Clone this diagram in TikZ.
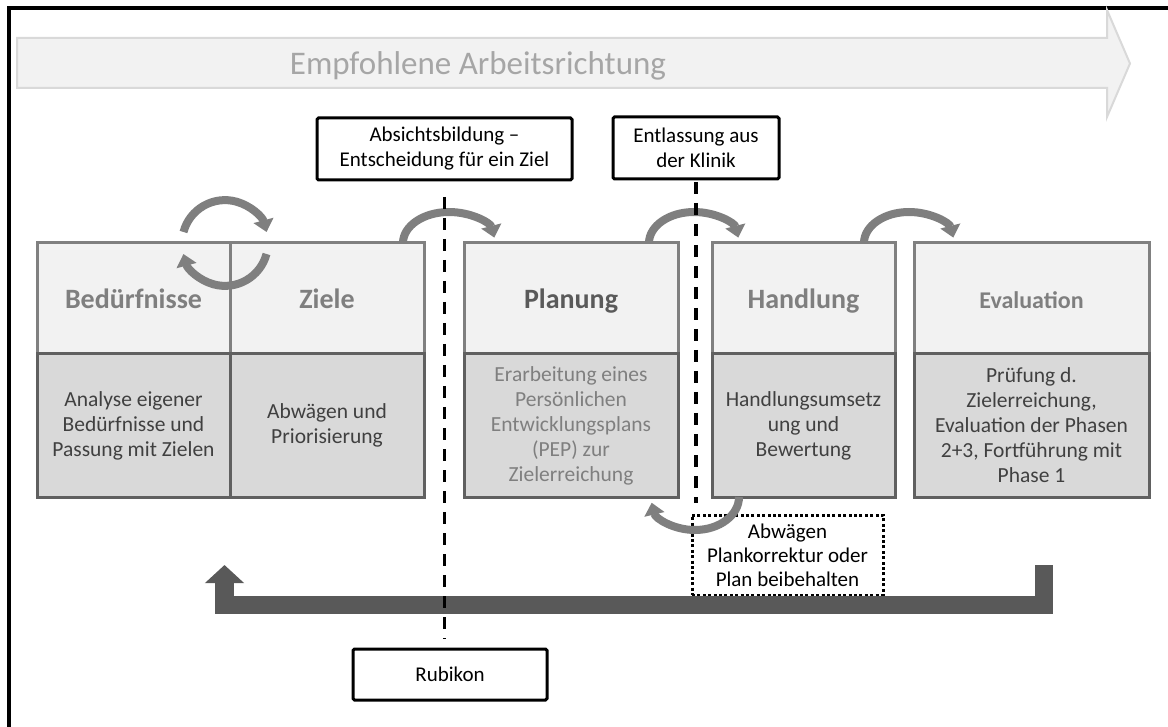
\documentclass[tikz,border=0pt]{standalone}
\usepackage{fontspec}
\setmainfont{Carlito}
\usepackage{xcolor}
\usetikzlibrary{arrows.meta}
\usetikzlibrary{positioning}
\definecolor{headfill}{HTML}{F2F2F2}
\definecolor{bodyfill}{HTML}{D9D9D9}
\definecolor{headline}{HTML}{808080}
\definecolor{bodyline}{HTML}{606060}
\definecolor{headtext}{HTML}{7F7F7F}
\definecolor{plantext}{HTML}{5A5A5A}
\definecolor{bodytext}{HTML}{404040}
\definecolor{arcgray}{HTML}{7F7F7F}
\definecolor{bargray}{HTML}{595959}
\definecolor{titleline}{HTML}{D9D9D9}
\definecolor{titletext}{HTML}{A6A6A6}
\newcommand{\fsz}[2]{\fontsize{#1}{#2}\selectfont}

\begin{document}
\begin{tikzpicture}[x=1pt, y=-1pt,
    head/.style={draw=headline, fill=headfill, line width=3pt, minimum height=111pt, inner sep=0pt, outer sep=0pt,
                 text height=20pt, text depth=0pt, text=headtext, font=\bfseries\fsz{28}{34}},
    body/.style={draw=bodyline, fill=bodyfill, line width=3pt, minimum height=143pt, inner sep=0pt, outer sep=0pt,
                 align=center, text=bodytext, font=\fsz{21.5}{25}},
    marker/.style={draw, line width=3pt, rounded corners=1.5pt, align=center, inner sep=0pt, outer sep=0pt, font=\fsz{21}{25}},
    note/.style={draw, line width=3pt, dash pattern=on 3pt off 2.4pt, align=center, inner sep=0pt, outer sep=0pt, font=\fsz{21}{24}},
    cycarrow/.style={arcgray, line width=8pt, -{Triangle[width=20pt,length=12pt]}},
    rubiline/.style={line width=3.3pt, dash pattern=on 12pt off 9pt},
    loopbar/.style={bargray, line width=18.5pt, -{Triangle[width=38pt,length=18pt]}}]
       \useasboundingbox (0,0) rectangle (1168,727);
       \draw[line width=4pt] (8.5,727) -- (8.5,8) -- (1168,8);

       % Arbeitsrichtung
       \draw[fill=headfill, draw=titleline, line width=2pt] (17,38) -- (1107,38) -- (1107,10) -- (1130,63.5)
            -- (1107,117) -- (1107,88) -- (17,88) -- cycle;
       \node[text=titletext, font=\fsz{33}{40}, anchor=base] (title) at (478,75) {Empfohlene Arbeitsrichtung};

       % Phasen
       \node[head, minimum width=193pt] (bed) at (133.5,298.5) {Bedürfnisse};
       \node[head, minimum width=194pt] (ziele) at (327,298.5) {Ziele};
       \node[head, minimum width=214pt, text=plantext] (plan) at (571,298.5) {Planung};
       \node[head, minimum width=183pt] (hand) at (803.5,298.5) {Handlung};
       \node[head, minimum width=235pt, font=\bfseries\fsz{24}{29}] (eval) at (1031.5,298.5) {Evaluation};

       \node[body, minimum width=193pt, below=0pt of bed] (bedtxt) {Analyse eigener\\Bedürfnisse und\\Passung mit Zielen};
       \node[body, minimum width=194pt, below=0pt of ziele] (zieletxt) {Abwägen und\\Priorisierung};
       \node[body, minimum width=214pt, below=0pt of plan, text=headtext] (plantxt) {Erarbeitung eines\\Persönlichen\\Entwicklungsplans\\(PEP) zur\\Zielerreichung};
       \node[body, minimum width=183pt, below=0pt of hand] (handtxt) {Handlungsumsetz\\ung und\\Bewertung};
       \node[body, minimum width=235pt, below=0pt of eval] (evaltxt) {Prüfung d.\\Zielerreichung,\\Evaluation der Phasen\\2+3, Fortführung mit\\Phase 1};

       \node[marker, minimum width=255pt, minimum height=62pt] (absicht) at (444.5,149) {Absichtsbildung –\\Entscheidung für ein Ziel};
       \node[marker, minimum width=166pt, minimum height=62pt] (entl) at (696,148) {Entlassung aus\\der Klinik};
       \node[marker, minimum width=194pt, minimum height=51pt] (rubikon) at (450,674.5) {Rubikon};
       \node[note, minimum width=191pt, minimum height=80pt] (abw) at (787.5,555) {Abwägen\\Plankorrektur oder\\Plan beibehalten};

       \draw[cycarrow] ([xshift=-46.5pt, yshift=11pt]ziele.north west) arc[start angle=165, end angle=15, radius=43pt];
       \draw[cycarrow] ([xshift=36.5pt, yshift=-11pt]ziele.north west) arc[start angle=-15, end angle=-165, radius=43pt];
       \draw[cycarrow] ([xshift=-21pt]ziele.north east) arc[start angle=180, end angle=10, x radius=46pt, y radius=31pt];
       \draw[cycarrow] ([xshift=-29pt]plan.north east) arc[start angle=180, end angle=10, x radius=45pt, y radius=31pt];
       \draw[cycarrow] ([xshift=-31pt]hand.north east) arc[start angle=180, end angle=10, x radius=45pt, y radius=31pt];
       \draw[cycarrow] ([xshift=27pt]handtxt.south west) arc[start angle=0, end angle=-170, x radius=44pt, y radius=33pt];

       % Rueckfuehrung
       \coordinate (loopend) at (1044,565);
       \coordinate (loopstart) at (224.5,565);
       \draw[loopbar] (loopend) -- ++(0,40) -| (loopstart);

       \draw[rubiline, shorten <=17pt, shorten >=10pt] (absicht.south) -- (absicht.south |- rubikon.north);
       \draw[rubiline, shorten <=3pt, shorten >=12pt] (entl.south) -- (entl.south |- abw.north);
\end{tikzpicture}
\end{document}
